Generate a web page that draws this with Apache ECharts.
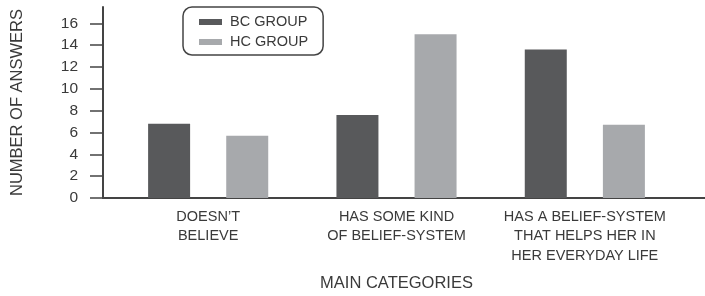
<!DOCTYPE html>
<html>
<head>
<meta charset="utf-8">
<script src="https://cdn.jsdelivr.net/npm/echarts@6/dist/echarts.min.js"></script>
<style>
  html, body { margin: 0; padding: 0; background: #fff; }
  #chart { width: 705px; height: 296px; }
</style>
</head>
<body>
<div id="chart"></div>
<script>
const categories = [
  "DOESN\u2019T\nBELIEVE",
  "HAS SOME KIND\nOF BELIEF-SYSTEM",
  "HAS A BELIEF-SYSTEM\nTHAT HELPS HER IN\nHER EVERYDAY LIFE"
];
const bcGroup = [6.8, 7.6, 13.6];
const hcGroup = [5.7, 15.0, 6.7];
const yTicks = [0, 2, 4, 6, 8, 10, 12, 14, 16];

const ink = '#3a3a3a';
const font = '"Liberation Sans", Arial, sans-serif';

const chart = echarts.init(document.getElementById('chart'), null, { renderer: 'canvas' });

chart.setOption({
  animation: false,
  textStyle: { fontFamily: font },
  legend: {
    orient: 'vertical',
    left: 183,
    top: 7,
    padding: [7, 15, 5, 16],
    itemGap: 4,
    itemWidth: 23,
    itemHeight: 6,
    icon: 'rect',
    borderColor: '#444',
    borderWidth: 1.5,
    borderRadius: 9,
    textStyle: { fontSize: 14.5, color: ink, lineHeight: 16, padding: [0, 0, 0, 3], fontFamily: font }
  },
  grid: [
    { left: 114, right: 26, top: 7, bottom: 98, outerBoundsMode: 'none' },
    { left: 103, right: 0, top: 7, bottom: 98, outerBoundsMode: 'none' }
  ],
  xAxis: [
    {
      type: 'category',
      gridIndex: 0,
      data: categories,
      axisLine: { show: false },
      axisTick: { alignWithLabel: true, length: 3, interval: 0, lineStyle: { color: '#333', width: 1.5 } },
      axisLabel: { interval: 0, color: ink, fontSize: 14.5, lineHeight: 19.5, margin: 9, fontFamily: font },
      name: 'MAIN CATEGORIES',
      nameLocation: 'middle',
      nameGap: 77,
      nameTextStyle: { color: ink, fontSize: 16.5, fontFamily: font }
    },
    {
      type: 'value',
      gridIndex: 1,
      min: 0,
      max: 1,
      axisLine: { show: true, lineStyle: { color: '#444', width: 2 } },
      axisTick: { show: false },
      axisLabel: { show: false },
      splitLine: { show: false }
    }
  ],
  yAxis: [
    {
      type: 'value',
      gridIndex: 0,
      min: 0,
      max: 17.5,
      offset: 11,
      axisLine: { show: true, lineStyle: { color: '#444', width: 2 } },
      axisTick: { show: true, length: 13, customValues: yTicks, lineStyle: { color: '#444', width: 1.5 } },
      axisLabel: { customValues: yTicks, color: ink, fontSize: 15.5, margin: 25, fontFamily: font },
      splitLine: { show: false },
      name: 'NUMBER OF ANSWERS',
      nameLocation: 'middle',
      nameGap: 77,
      nameRotate: 90,
      nameTextStyle: { color: ink, fontSize: 16.5, fontFamily: font }
    },
    {
      type: 'value',
      gridIndex: 1,
      show: false
    }
  ],
  series: [
    {
      name: 'BC GROUP',
      type: 'bar',
      xAxisIndex: 0,
      yAxisIndex: 0,
      data: bcGroup,
      barWidth: 42,
      barGap: '86%',
      itemStyle: { color: '#58595b' }
    },
    {
      name: 'HC GROUP',
      type: 'bar',
      xAxisIndex: 0,
      yAxisIndex: 0,
      data: hcGroup,
      barWidth: 42,
      itemStyle: { color: '#a7a9ac' }
    }
  ]
});
</script>
</body>
</html>
